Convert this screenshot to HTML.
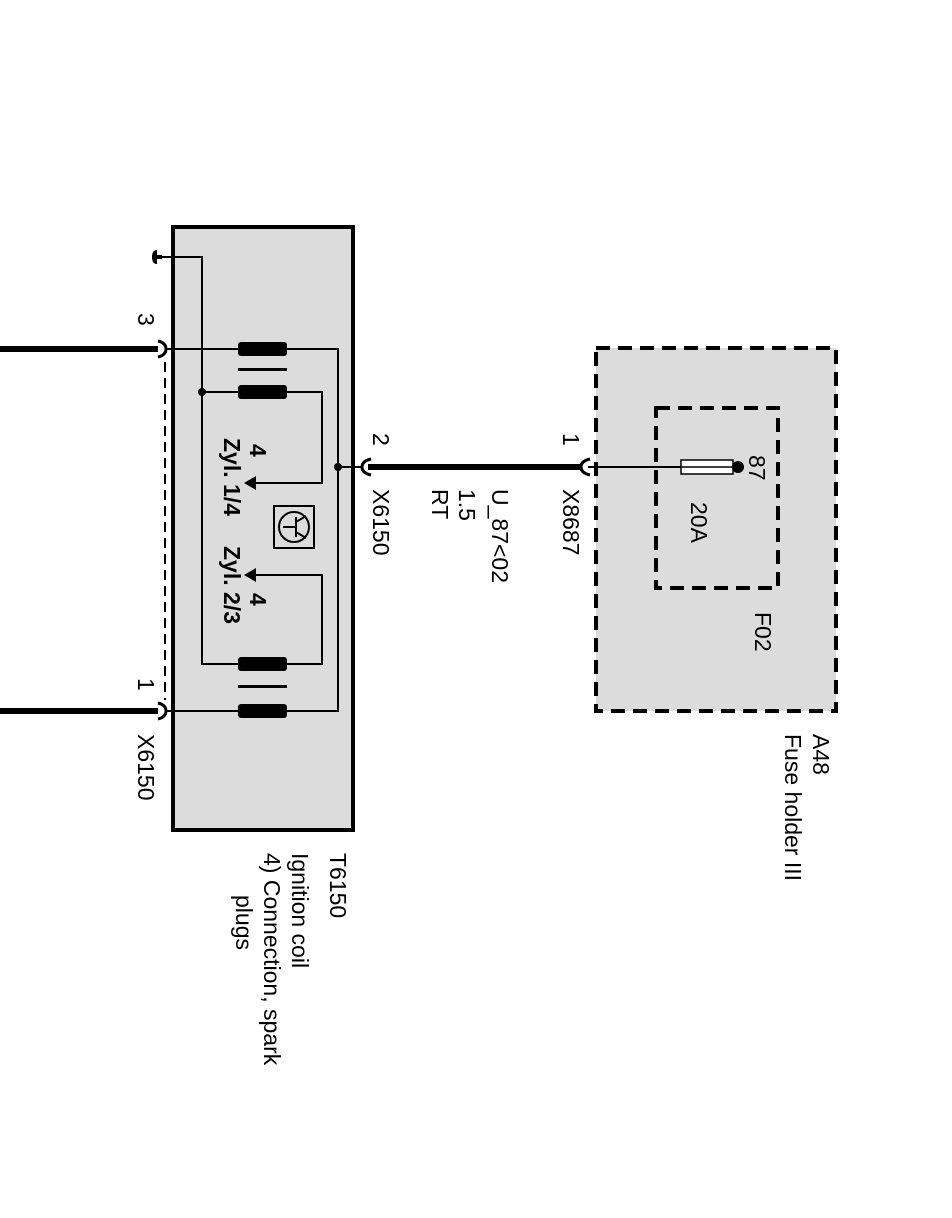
<!DOCTYPE html>
<html><head><meta charset="utf-8"><style>html,body{margin:0;padding:0;background:#fff}svg{display:block}text{font-family:"Liberation Sans",sans-serif;font-size:23px;fill:#000}</style></head><body>
<svg width="952" height="1218" viewBox="0 0 952 1218" xmlns="http://www.w3.org/2000/svg">
<rect x="173" y="227" width="180" height="603" fill="#dcdcdc" stroke="#000" stroke-width="4"/>
<rect x="596" y="348" width="240" height="363" fill="#dcdcdc" stroke="#000" stroke-width="4" stroke-dasharray="14,8"/>
<rect x="656" y="408" width="122" height="180" fill="none" stroke="#000" stroke-width="4" stroke-dasharray="14,8"/>
<path d="M152 257 Q152 250 157 250 L157 264 Q152 264 152 257 Z"/>
<rect x="156" y="255" width="6" height="4" fill="#000"/>
<g stroke="#000" stroke-width="2" fill="none">
<path d="M160 257 H202 V664 H322 V575 H252"/>
<path d="M202 392 H322 V483 H252"/>
<path d="M165 349 H338 V711 H165"/>
<path d="M338 467 H362"/>
<path d="M588 467 H681"/>
<path d="M165 362 V700" stroke-dasharray="10,6"/>
</g>
<circle cx="202" cy="392" r="4"/>
<circle cx="338" cy="467" r="4"/>
<path d="M244 483 L256 476 L256 490 Z"/>
<path d="M244 575 L256 568 L256 582 Z"/>
<rect x="238" y="342" width="49" height="14" rx="3"/>
<rect x="238" y="385" width="49" height="14" rx="3"/>
<rect x="238" y="368" width="49" height="3"/>
<rect x="238" y="657" width="49" height="14" rx="3"/>
<rect x="238" y="704" width="49" height="14" rx="3"/>
<rect x="238" y="685" width="49" height="3"/>
<rect x="274" y="506" width="40" height="42" fill="none" stroke="#000" stroke-width="2"/>
<circle cx="294" cy="527" r="15" fill="none" stroke="#000" stroke-width="2"/>
<path d="M283 527 H296 M296 517 V537 M296 522 L306 516 M296 532 L306 538" stroke="#000" stroke-width="2" fill="none"/>
<g stroke="#000" stroke-width="6">
<path d="M0 349 H158"/><path d="M0 711 H158"/><path d="M368 467 H582"/>
</g>
<g stroke="#000" stroke-width="3" fill="none">
<path d="M158 341 Q166 343 166 349 Q166 355 158 357"/>
<path d="M158 703 Q166 705 166 711 Q166 717 158 719"/>
<path d="M371 459 Q362 461 362 467 Q362 473 371 475"/>
<path d="M590 459 Q581 461 581 467 Q581 473 590 475"/>
</g>
<rect x="681" y="460" width="52" height="14" fill="#fff" stroke="#000" stroke-width="1.5"/>
<line x1="681" y1="467" x2="733" y2="467" stroke="#000" stroke-width="1.5"/>
<circle cx="738" cy="467" r="6"/>
<g>
<text transform="translate(138,313) rotate(90)">3</text>
<text transform="translate(138,678) rotate(90)">1</text>
<text transform="translate(138,734) rotate(90)">X6150</text>
<text transform="translate(373,433) rotate(90)">2</text>
<text transform="translate(373,489) rotate(90)">X6150</text>
<text transform="translate(492,489) rotate(90)">U_87&lt;02</text>
<text transform="translate(459,489) rotate(90)">1.5</text>
<text transform="translate(432,489) rotate(90)">RT</text>
<text transform="translate(563,433) rotate(90)">1</text>
<text transform="translate(563,489) rotate(90)">X8687</text>
<text transform="translate(749,455) rotate(90)">87</text>
<text transform="translate(691,502) rotate(90)">20A</text>
<text transform="translate(755,612) rotate(90)">F02</text>
<text transform="translate(813,734) rotate(90)">A48</text>
<text transform="translate(785,734) rotate(90)">Fuse holder III</text>
<text transform="translate(330,853) rotate(90)">T6150</text>
<text transform="translate(292,853) rotate(90)">Ignition coil</text>
<text transform="translate(264,853) rotate(90)">4) Connection, spark</text>
<text transform="translate(236,895) rotate(90)">plugs</text>
<text transform="translate(250,444) rotate(90)" font-weight="bold" font-size="21">4</text>
<text transform="translate(224,438) rotate(90)" font-weight="bold" font-size="21">Zyl. 1/4</text>
<text transform="translate(250,593) rotate(90)" font-weight="bold" font-size="21">4</text>
<text transform="translate(224,546) rotate(90)" font-weight="bold" font-size="21">Zyl. 2/3</text>
</g>
</svg>
</body></html>
